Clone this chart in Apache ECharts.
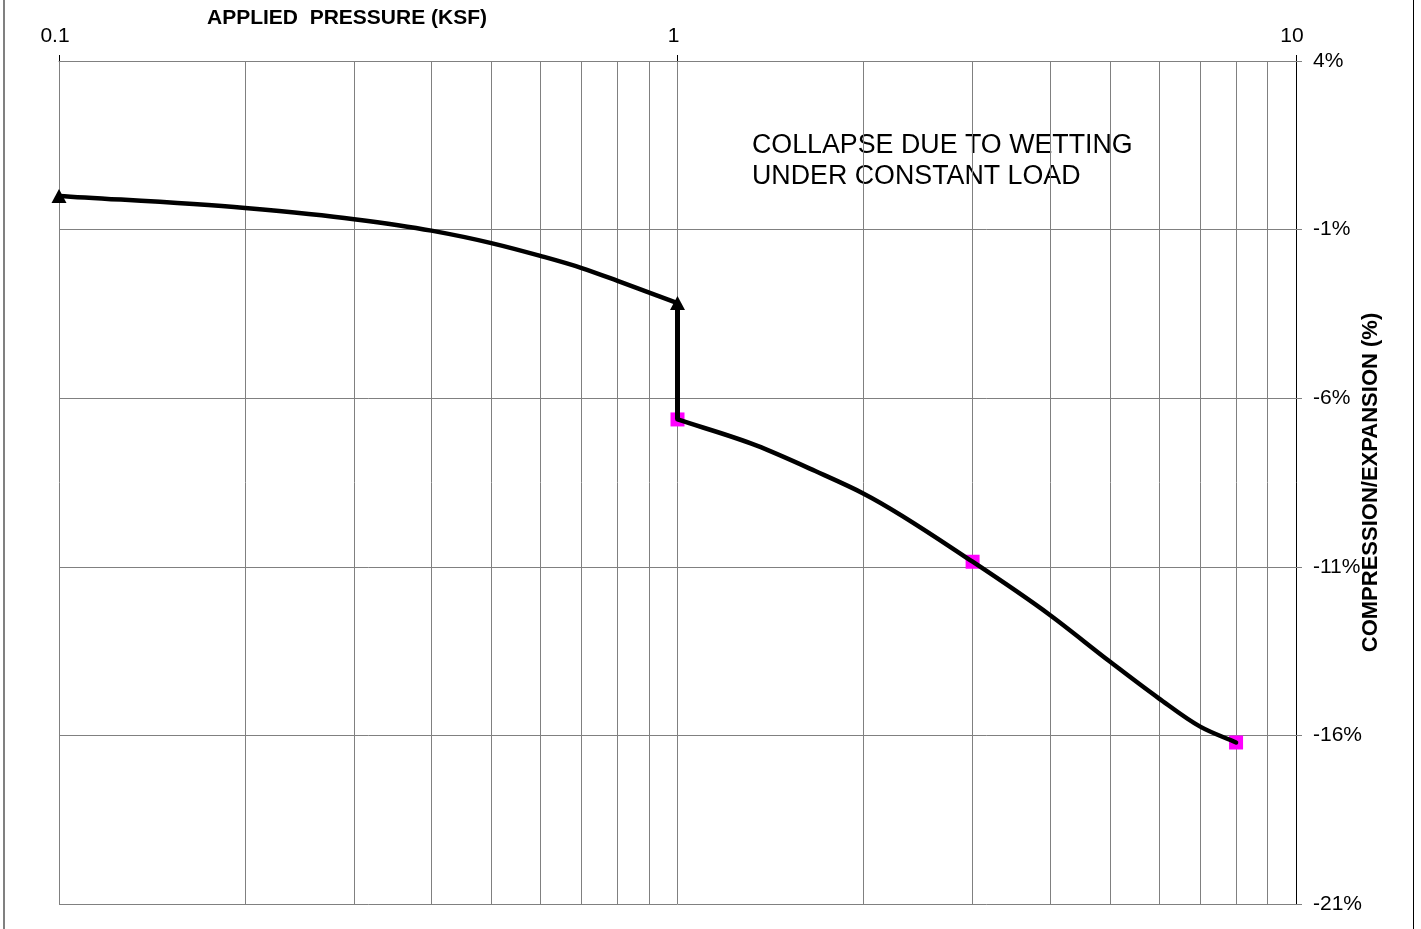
<!DOCTYPE html>
<html>
<head>
<meta charset="utf-8">
<title>Collapse Test</title>
<script src="https://cdn.jsdelivr.net/npm/echarts@6/dist/echarts.min.js"></script>
<style>
  html, body { margin: 0; padding: 0; background: #fff; }
  #wrap { position: relative; width: 1421px; height: 929px; }
  #chart { position: absolute; left: 0; top: 0; width: 1421px; height: 929px; }
  .frame { position: absolute; top: 0; height: 929px; width: 0; pointer-events: none; }
  #frameL { left: 3px; border-left: 2px solid #808080; }
  #frameR { left: 1413px; border-left: 1px solid #000; }
</style>
</head>
<body>
<div id="wrap">
  <div id="chart"></div>
  <div class="frame" id="frameL"></div>
  <div class="frame" id="frameR"></div>
</div>
<script>
// Applied pressure (ksf) vs. compression/expansion (%)
const loadingCurve = [
  [0.1, 0.0], [0.2, -0.36], [0.3, -0.69], [0.4, -1.03], [0.5, -1.40],
  [0.6, -1.78], [0.7, -2.14], [0.8, -2.52], [0.9, -2.87], [1, -3.18]
];
const collapseStep = [[1, -3.18], [1, -6.63]];
const wettedCurve = [
  [1, -6.63], [1.34, -7.40], [1.67, -8.16], [2, -8.83], [3, -10.85],
  [4, -12.43], [5, -13.81], [6, -14.9], [7, -15.74], [8, -16.21]
];
// measured readings shown with markers
const dryReadings = [[0.1, 0.0], [1, -3.18]];
const wetReadings = [[1, -6.63], [3, -10.85], [8, -16.21]];

// log-cycle gridlines between the decades
const minorGrid = [0.2, 0.3, 0.4, 0.5, 0.6, 0.7, 0.8, 0.9, 2, 3, 4, 5, 6, 7, 8, 9];

const xAxisTitle = 'APPLIED  PRESSURE (KSF)';
const yAxisTitle = 'COMPRESSION/EXPANSION (%)';
const note = 'COLLAPSE DUE TO WETTING\nUNDER CONSTANT LOAD';

const FONT = '"Liberation Sans", Arial, sans-serif';
const GRID = '#808080';

// Smooth cubic Hermite path through screen points (x increasing)
function hermitePath(pts) {
  const n = pts.length;
  const m = new Array(n);
  for (let i = 0; i < n; i++) {
    if (i === 0) {
      m[i] = (pts[1][1] - pts[0][1]) / (pts[1][0] - pts[0][0]);
    } else if (i === n - 1) {
      m[i] = (pts[i][1] - pts[i - 1][1]) / (pts[i][0] - pts[i - 1][0]);
    } else {
      const h0 = pts[i][0] - pts[i - 1][0];
      const h1 = pts[i + 1][0] - pts[i][0];
      const s0 = (pts[i][1] - pts[i - 1][1]) / h0;
      const s1 = (pts[i + 1][1] - pts[i][1]) / h1;
      m[i] = (s0 * h1 + s1 * h0) / (h0 + h1);
    }
  }
  let d = 'M' + pts[0][0] + ' ' + pts[0][1];
  for (let i = 0; i < n - 1; i++) {
    const h = pts[i + 1][0] - pts[i][0];
    const c1x = pts[i][0] + h / 3, c1y = pts[i][1] + m[i] * h / 3;
    const c2x = pts[i + 1][0] - h / 3, c2y = pts[i + 1][1] - m[i + 1] * h / 3;
    d += ' C' + c1x + ' ' + c1y + ' ' + c2x + ' ' + c2y + ' ' + pts[i + 1][0] + ' ' + pts[i + 1][1];
  }
  return d;
}

function curveSeries(name, points, width) {
  return {
    name: name,
    type: 'custom',
    data: points,
    z: 3,
    silent: true,
    renderItem: function (params, api) {
      if (params.dataIndex !== 0) return null;
      const screen = points.map(p => api.coord(p));
      return {
        type: 'path',
        shape: { pathData: hermitePath(screen) },
        style: { fill: 'none', stroke: '#000', lineWidth: width, lineCap: 'round', lineJoin: 'round' }
      };
    }
  };
}

const chart = echarts.init(document.getElementById('chart'), null, { renderer: 'canvas' });

chart.setOption({
  animation: false,
  backgroundColor: '#fff',
  grid: { left: 59, right: 125, top: 61, bottom: 25, containLabel: false },
  xAxis: {
    type: 'log',
    logBase: 10,
    min: 0.1,
    max: 10,
    position: 'top',
    axisLine: { show: true, onZero: false, lineStyle: { color: GRID, width: 1 } },
    axisTick: { show: true, inside: false, length: 6, lineStyle: { color: '#000' } },
    axisLabel: {
      color: '#000', fontSize: 21, fontFamily: FONT, margin: 14,
      padding: [0, 8, 0, 0],
      formatter: v => String(+Number(v).toPrecision(3))
    },
    splitLine: { show: true, lineStyle: { color: GRID, width: 1 } }
  },
  yAxis: {
    type: 'value',
    position: 'right',
    min: -21,
    max: 4,
    interval: 5,
    axisLine: { show: true, onZero: false, lineStyle: { color: '#000', width: 1 } },
    axisTick: { show: true, inside: false, length: 6, lineStyle: { color: GRID } },
    axisLabel: {
      color: '#000', fontSize: 21, fontFamily: FONT, margin: 17,
      formatter: '{value}%'
    },
    splitLine: { show: true, lineStyle: { color: GRID, width: 1 } },
    name: yAxisTitle,
    nameLocation: 'middle',
    nameRotate: 90,
    nameGap: 64,
    nameMoveOverlap: false,
    nameTextStyle: { color: '#000', fontSize: 22, fontWeight: 'bold', fontFamily: FONT }
  },
  graphic: [
    {
      type: 'text', x: 347, y: 18,
      style: {
        text: xAxisTitle, align: 'center', verticalAlign: 'middle',
        fontSize: 21, fontWeight: 'bold', fontFamily: FONT, fill: '#000'
      }
    },
    {
      type: 'text', x: 752, y: 130,
      style: {
        text: note, fontSize: 26.8, lineHeight: 31, fontFamily: FONT, fill: '#000'
      }
    }
  ],
  series: [
    {
      name: 'grid',
      type: 'line',
      data: [],
      z: 1,
      silent: true,
      markLine: {
        silent: true,
        z: 1,
        symbol: ['none', 'none'],
        label: { show: false },
        emphasis: { disabled: true },
        lineStyle: { color: GRID, type: 'solid', width: 1 },
        data: minorGrid.map(v => ({ xAxis: v }))
      }
    },
    {
      name: 'dry',
      type: 'scatter',
      data: dryReadings,
      symbol: 'triangle',
      symbolSize: [15, 14],
      itemStyle: { color: '#000', opacity: 1 },
      z: 2
    },
    {
      name: 'wet',
      type: 'scatter',
      data: wetReadings,
      symbol: 'rect',
      symbolSize: 14,
      itemStyle: { color: '#FF00FF', opacity: 1 },
      z: 2
    },
    curveSeries('loading', loadingCurve, 4.5),
    {
      name: 'collapse',
      type: 'line',
      data: collapseStep,
      showSymbol: false,
      lineStyle: { color: '#000', width: 5 },
      z: 3
    },
    curveSeries('wetted', wettedCurve, 4.5)
  ]
});
</script>
</body>
</html>
